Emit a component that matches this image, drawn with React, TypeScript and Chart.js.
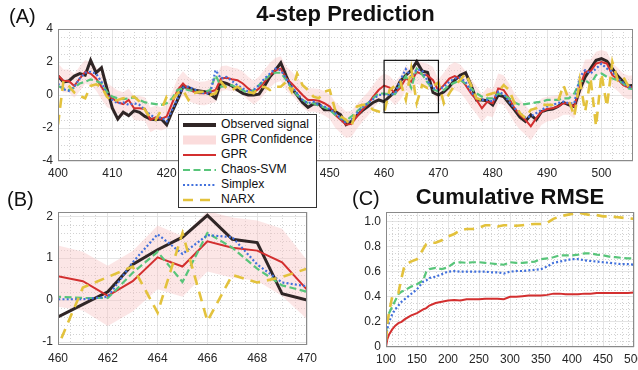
import React, { useEffect, useRef } from 'react';
import { Chart, registerables } from 'chart.js';

Chart.register(...registerables);

const FONT = '"Liberation Sans", Arial, Helvetica, sans-serif';
const TEXT = '#262626';
const BLACK = '#302626';
const RED = '#d32f2f';
const GREEN = '#58c57a';
const BLUE = '#4170dc';
const YELLOW = '#e3c23c';
const PINK = 'rgba(248, 196, 196, 0.42)';

// ---------- Panel A / B data (time steps 400..506) ----------
const firstStep = 400;
const observed = [
  1.15, 0.8, 0.85, 1.15, 1.3, 1.2, 2.1, 1.35, 1.65, 0.4,
  -0.8, -1.45, -1.05, -1.25, -0.95, -1.05, -1.3, -1.45, -1.5, -1.45,
  -1.8, -1.0, -0.3, 0.5, 0.45, 0.3, 0.25, 0.2, 0.05, -0.2,
  0.8, 0.7, 0.55, 0.3, 0.1, 0.0, 0.0, 0.05, 0.55, 1.1,
  1.5, 1.95, 1.15, 0.4, 0.0, -0.45, -0.75, -0.55, -0.55, -0.9,
  -0.9, -1.0, -1.2, -1.8, -1.6, -1.25, -0.95, -0.7, -0.45, -0.3,
  -0.4, -0.1, 0.2, 0.85, 1.2, 1.5, 2.02, 1.45, 1.37, 0.15,
  0.0, 0.2, 0.5, 0.9, 1.2, 1.35, 0.6, -0.3, -0.3, -0.35,
  -0.6, 0.0, -0.1, -0.5, -0.9, -1.35, -1.6, -1.2, -1.5, -1.0,
  -0.9, -0.85, -0.7, -0.45, -0.6, -0.7, 0.3, 1.1, 1.6, 2.1,
  2.2, 2.05, 1.6, 1.15, 0.8, 0.55, 0.6,
];
const gpr = [
  1.2, 0.85, 0.85, 0.55, 1.0, 1.4, 1.3, 1.0, 0.5, 0.0,
  -0.2, -0.45, -0.55, -0.3, -0.8, -0.8, -0.85, -1.5, -1.35, -1.45,
  -1.3, -0.5, 0.3, 0.7, 0.35, 0.2, 0.1, 0.1, 0.2, 0.3,
  1.0, 1.05, 0.95, 0.9, 0.7, 0.4, 0.15, 0.4, 0.8, 1.2,
  1.5, 1.6, 1.0, 0.7, 0.35, 0.0, -0.3, -0.3, -0.35, -0.5,
  -0.7, -1.2, -1.5, -1.8, -1.75, -1.3, -0.9, -0.55, -0.1, 0.3,
  0.57, 0.45, 0.1, 0.45, 1.02, 0.8, 1.4, 1.25, 1.18, 0.9,
  0.25, 0.6, 1.0, 1.15, 1.0, 0.6, 0.1, -0.3, -0.8, -0.4,
  -0.5, 0.4, 0.3, -0.2, -0.8, -1.2, -1.5, -1.9, -1.4, -1.0,
  -0.85, -0.8, -0.7, -0.5, -0.5, -0.7, 0.5, 1.4, 1.45, 1.9,
  2.0, 1.9, 1.2, 0.95, 0.6, 0.45, 0.5,
];
const gprUpper = [
  1.92, 1.55, 1.55, 1.27, 1.75, 2.12, 2.0, 1.72, 1.25, 0.72,
  0.5, 0.27, 0.17, 0.4, -0.08, -0.06, -0.13, -0.75, -0.63, -0.75,
  -0.58, 0.2, 1.02, 1.44, 1.07, 0.9, 0.8, 0.82, 0.92, 1.04,
  1.75, 1.79, 1.67, 1.6, 1.42, 1.1, 0.87, 1.12, 1.54, 1.95,
  2.25, 2.35, 1.72, 1.42, 1.05, 0.72, 0.42, 0.4, 0.37, 0.24,
  0.05, -0.42, -0.7, -1.0, -0.97, -0.55, -0.18, 0.17, 0.62, 1.04,
  1.3, 1.15, 0.82, 1.17, 1.78, 1.52, 2.12, 1.97, 1.9, 1.7,
  0.95, 1.35, 1.8, 2.0, 1.85, 1.45, 0.95, 0.55, 0.05, 0.45,
  0.35, 1.3, 1.2, 0.7, 0.1, -0.3, -0.6, -1.05, -0.55, -0.2,
  -0.1, -0.08, 0.0, 0.2, 0.2, 0.02, 1.25, 2.15, 2.17, 2.62,
  2.72, 2.62, 1.92, 1.65, 1.3, 1.17, 1.2,
];
const gprLower = [
  0.48, 0.15, 0.15, -0.17, 0.25, 0.68, 0.6, 0.28, -0.25, -0.72,
  -0.9, -1.17, -1.27, -1.0, -1.52, -1.54, -1.57, -2.25, -2.07, -2.15,
  -2.02, -1.2, -0.42, -0.04, -0.37, -0.5, -0.6, -0.62, -0.52, -0.44,
  0.25, 0.31, 0.23, 0.2, -0.02, -0.3, -0.57, -0.32, 0.06, 0.45,
  0.75, 0.85, 0.28, -0.02, -0.35, -0.72, -1.02, -1.0, -1.07, -1.24,
  -1.45, -1.98, -2.3, -2.6, -2.53, -2.05, -1.62, -1.27, -0.82, -0.44,
  -0.16, -0.25, -0.62, -0.27, 0.26, 0.08, 0.68, 0.53, 0.46, 0.1,
  -0.45, -0.15, 0.2, 0.3, 0.15, -0.25, -0.75, -1.15, -1.65, -1.25,
  -1.35, -0.5, -0.6, -1.1, -1.7, -2.1, -2.4, -2.75, -2.25, -1.8,
  -1.6, -1.52, -1.4, -1.2, -1.2, -1.42, -0.25, 0.65, 0.73, 1.18,
  1.28, 1.18, 0.48, 0.25, -0.1, -0.27, -0.2,
];
const chaosSvm = [
  0.55, 0.4, 0.3, 0.45, 0.7, 0.8, 0.95, 0.85, 0.7, 0.2,
  -0.1, -0.2, -0.25, -0.2, -0.15, -0.3, -0.45, -0.5, -0.55, -0.6,
  -0.5, -0.2, 0.3, 0.4, 0.3, 0.25, 0.15, 0.2, 0.3, 1.2,
  0.5, 0.55, 0.6, 0.4, 0.3, 0.1, 0.3, 0.6, 0.9, 1.2,
  1.35, 1.35, 0.9, 0.4, 0.0, -0.3, -0.5, -0.5, -0.65, -0.75,
  -0.9, -1.2, -1.4, -1.55, -1.3, -1.0, -0.7, -0.5, -0.2, 0.1,
  0.08, 0.05, 0.05, 0.65, 1.15, 0.43, 1.6, 1.25, 0.75, 0.35,
  0.2, 0.3, 0.6, 0.75, 0.9, 0.7, 0.4, 0.1, -0.1, -0.2,
  -0.2, 0.1, 0.0, -0.2, -0.45, -0.6, -0.55, -0.5, -0.45, -0.4,
  -0.3, -0.3, -0.3, -0.2, -0.2, 0.1, 0.8, 0.9, 0.65, 1.2,
  1.3, 1.1, 1.0, 0.9, 0.7, 0.4, 0.35,
];
const simplex = [
  0.7, 0.35, 0.25, 0.5, 1.0, 1.35, 1.4, 1.3, 0.8, 0.0,
  -0.3, -0.5, -0.45, -0.6, -0.5, -0.6, -0.9, -1.2, -1.4, -1.35,
  -1.6, -0.9, -0.2, 0.45, 0.5, 0.35, 0.2, 0.1, 0.1, 1.5,
  1.0, 1.1, 0.85, 0.6, 0.4, 0.2, 0.3, 0.6, 1.0, 1.3,
  1.6, 1.5, 1.0, 0.5, 0.1, -0.3, -0.5, -0.4, -0.6, -0.7,
  -0.85, -1.1, -1.4, -1.7, -1.5, -1.1, -0.75, -0.5, -0.25, 0.0,
  0.02, 0.02, 0.08, 0.9, 1.57, 1.1, 1.55, 1.5, 0.85, 0.42,
  0.33, 0.5, 0.8, 1.0, 1.05, 0.8, 0.2, -0.2, -0.3, -0.3,
  -0.4, 0.2, 0.05, -0.4, -0.8, -1.1, -1.35, -1.3, -1.1, -0.9,
  -0.7, -0.6, -0.5, -0.4, -0.5, -0.5, 1.1, 1.5, 1.3, 1.6,
  1.9, 1.6, 1.4, 1.0, 0.75, 0.5, 0.4,
];
const narx = [
  -1.8, 0.85, 0.55, 0.15, -0.05, -0.2, 0.55, 0.65, 0.5, -0.1,
  -0.4, -0.3, -0.2, -0.15, -0.1, -0.4, -0.9, -1.4, -1.5, -0.9,
  -0.1, -0.3, 0.1, 0.3, -0.3, 0.1, 0.2, 0.2, 0.0, 0.1,
  0.8, 0.4, 0.3, 0.5, 0.3, 0.2, 0.1, 0.45, 0.5, 0.3,
  0.5, 0.5, 0.8, 0.2, 1.3, 0.6, 0.3, -0.1, -0.2, 0.2,
  0.3, -0.9, -1.3, -1.5, -1.9, -0.7, -0.6, -0.6, -0.9, -1.0,
  -1.1, 0.3, 0.55, 0.8, -0.3, 1.6, -0.5, 0.6, 0.42, 0.55,
  0.75, -0.5, 0.1, 0.6, 0.9, 1.3, 0.6, -0.2, -0.3, 0.0,
  0.1, 0.2, 0.6, 0.3, -0.5, -1.1, -1.4, -0.9, -0.8, -0.6,
  -0.6, -0.6, -0.4, 0.6, -0.3, -1.3, 0.9, -1.0, 1.0, -1.9,
  1.3, -0.7, 2.0, 0.9, 1.1, 0.5, 0.9,
];
const timeSteps = observed.map((_, i) => firstStep + i);

// zoom window shown in panel B and outlined in panel A
const zoomWindowX = [460, 470];
const zoomWindowY = [-1.07, 2.1];

// ---------- Panel C data ----------
const rmseSteps = [
  100, 102, 105, 110, 115, 120, 125, 130, 140, 150, 160, 165, 170, 180, 190, 200,
  210, 220, 230, 240, 250, 260, 270, 280, 290, 300, 310, 320, 330, 340, 350, 360,
  370, 380, 390, 400, 410, 420, 430, 440, 450, 460, 470, 480, 490, 500,
];
const rmseGpr = [
  0.0, 0.06, 0.1, 0.14, 0.17, 0.19, 0.2, 0.22, 0.25, 0.27, 0.3, 0.31, 0.33, 0.35, 0.36, 0.37,
  0.375, 0.37, 0.38, 0.38, 0.38, 0.385, 0.385, 0.385, 0.38, 0.4, 0.4, 0.405, 0.41, 0.41, 0.41, 0.415,
  0.425, 0.425, 0.42, 0.42, 0.42, 0.425, 0.425, 0.43, 0.43, 0.43, 0.43, 0.43, 0.43, 0.435,
];
const rmseSvm = [
  0.1, 0.2, 0.27, 0.32, 0.37, 0.42, 0.44, 0.45, 0.48, 0.5, 0.53, 0.6, 0.62, 0.63, 0.62, 0.635,
  0.67, 0.675, 0.67, 0.675, 0.675, 0.67, 0.665, 0.66, 0.655, 0.675, 0.67, 0.67, 0.675, 0.68, 0.7, 0.705,
  0.715, 0.73, 0.73, 0.73, 0.735, 0.745, 0.745, 0.735, 0.73, 0.72, 0.715, 0.71, 0.705, 0.705,
];
const rmseSimplex = [
  0.05, 0.14, 0.2, 0.26, 0.3, 0.33, 0.36, 0.38, 0.42, 0.46, 0.52, 0.53, 0.55, 0.56, 0.58, 0.6,
  0.605, 0.6, 0.6, 0.6, 0.6, 0.6, 0.595, 0.595, 0.585, 0.6, 0.605, 0.605, 0.61, 0.615, 0.62, 0.64,
  0.67, 0.68, 0.69, 0.7, 0.7, 0.69, 0.685, 0.68, 0.675, 0.67, 0.665, 0.66, 0.66, 0.655,
];
const rmseNarx = [
  0.05, 0.18, 0.28, 0.4, 0.41, 0.43, 0.55, 0.65, 0.68, 0.7, 0.78, 0.82, 0.83, 0.83, 0.85, 0.88,
  0.9, 0.93, 0.94, 0.94, 0.95, 0.97, 0.97, 0.96, 0.97, 0.97, 0.965, 0.97, 0.975, 0.98, 0.98, 0.99,
  1.02, 1.04, 1.05, 1.06, 1.07, 1.06, 1.05, 1.05, 1.04, 1.04, 1.035, 1.03, 1.025, 1.02,
];

const W = 638;
const H = 370;

type Series = { label: string; color: string; width: number; dash: number[] };
const styleObserved: Series = { label: 'Observed signal', color: BLACK, width: 3, dash: [] };
const styleGpr: Series = { label: 'GPR', color: RED, width: 2, dash: [] };
const styleSvm: Series = { label: 'Chaos-SVM', color: GREEN, width: 2.2, dash: [7, 3.5] };
const styleSimplex: Series = { label: 'Simplex', color: BLUE, width: 2.2, dash: [2, 2.2] };
const styleNarx: Series = { label: 'NARX', color: YELLOW, width: 2.6, dash: [10, 7] };

function lineDs(s: Series, xs: number[], ys: number[]) {
  return {
    label: s.label,
    data: ys.map((y, i) => ({ x: xs[i], y })),
    borderColor: s.color,
    borderWidth: s.width,
    borderDash: s.dash,
    pointRadius: 0,
    tension: 0,
    fill: false,
  };
}

function predictionDatasets() {
  return [
    lineDs(styleNarx, timeSteps, narx),
    lineDs(styleSimplex, timeSteps, simplex),
    lineDs(styleSvm, timeSteps, chaosSvm),
    lineDs(styleGpr, timeSteps, gpr),
    lineDs(styleObserved, timeSteps, observed),
    {
      label: 'GPR Confidence',
      data: gprUpper.map((y, i) => ({ x: timeSteps[i], y })),
      borderWidth: 0,
      borderColor: 'rgba(0,0,0,0)',
      backgroundColor: PINK,
      pointRadius: 0,
      tension: 0,
      fill: '+1',
    },
    {
      label: 'GPR Confidence lower',
      data: gprLower.map((y, i) => ({ x: timeSteps[i], y })),
      borderWidth: 0,
      borderColor: 'rgba(0,0,0,0)',
      pointRadius: 0,
      tension: 0,
      fill: false,
    },
  ];
}

const panelDecor = {
  id: 'panelDecor',
  beforeDatasetsDraw(chart: any, _a: any, opts: any) {
    const { ctx, chartArea: a, scales } = chart;
    ctx.save();
    ctx.beginPath();
    ctx.rect(a.left, a.top, a.right - a.left, a.bottom - a.top);
    ctx.clip();
    ctx.strokeStyle = '#d2d2d2';
    ctx.lineWidth = 1;
    ctx.setLineDash([1, 2]);
    const doAxis = (scale: any, minor: number, major: number, horizontal: boolean) => {
      const start = Math.ceil(scale.min / minor - 1e-9);
      for (let k = start; k * minor <= scale.max + 1e-9; k++) {
        const v = k * minor;
        const r = v / major;
        if (Math.abs(r - Math.round(r)) < 1e-6) continue;
        const p = Math.round(scale.getPixelForValue(v)) + 0.5;
        ctx.beginPath();
        if (horizontal) {
          ctx.moveTo(a.left, p);
          ctx.lineTo(a.right, p);
        } else {
          ctx.moveTo(p, a.top);
          ctx.lineTo(p, a.bottom);
        }
        ctx.stroke();
      }
    };
    doAxis(scales.x, opts.minorX, opts.majorX, false);
    doAxis(scales.y, opts.minorY, opts.majorY, true);
    ctx.restore();
  },
  afterDatasetsDraw(chart: any, _a: any, opts: any) {
    const { ctx, chartArea: a, scales } = chart;
    ctx.save();
    ctx.setLineDash([]);
    ctx.strokeStyle = '#8a8a8a';
    ctx.lineWidth = 1;
    ctx.strokeRect(Math.round(a.left) + 0.5, Math.round(a.top) + 0.5, Math.round(a.right - a.left) - 1, Math.round(a.bottom - a.top) - 1);
    if (opts.box) {
      const x0 = scales.x.getPixelForValue(zoomWindowX[0]);
      const x1 = scales.x.getPixelForValue(zoomWindowX[1]);
      const y0 = scales.y.getPixelForValue(zoomWindowY[1]);
      const y1 = scales.y.getPixelForValue(zoomWindowY[0]);
      ctx.strokeStyle = '#111';
      ctx.lineWidth = 1.2;
      ctx.strokeRect(x0, y0, x1 - x0, y1 - y0);
    }
    ctx.restore();
  },
};

function axis(min: number, max: number, step: number, isX: boolean, size: number, pad: number) {
  return {
    type: 'linear',
    min,
    max,
    ticks: {
      stepSize: step,
      includeBounds: false,
      autoSkip: false,
      maxRotation: 0,
      padding: pad,
      color: TEXT,
      font: { family: FONT, size: 12 },
    },
    grid: { color: '#e4e4e4', lineWidth: 1, drawTicks: false },
    border: { display: false },
    afterFit: (s: any) => {
      if (isX) s.height = size;
      else s.width = size;
      s.paddingLeft = 0;
      s.paddingRight = 0;
      s.paddingTop = 0;
      s.paddingBottom = 0;
    },
  };
}

function baseOptions(padding: any, scales: any, decor: any) {
  return {
    animation: false,
    responsive: false,
    maintainAspectRatio: false,
    events: [],
    layout: { padding },
    plugins: {
      legend: { display: false },
      tooltip: { enabled: false },
      title: { display: false },
      panelDecor: decor,
    },
    scales,
  };
}

function ChartCanvas({ make }: { make: () => any }) {
  const ref = useRef<HTMLCanvasElement | null>(null);
  useEffect(() => {
    if (!ref.current) return;
    const chart = new Chart(ref.current, make());
    return () => chart.destroy();
  }, []);
  return (
    <canvas
      ref={ref}
      width={W}
      height={H}
      style={{ position: 'absolute', left: 0, top: 0, width: W, height: H }}
    />
  );
}

const makeA = () => ({
  type: 'line',
  data: { datasets: predictionDatasets() },
  plugins: [panelDecor],
  options: baseOptions(
    { left: 0, right: 5, top: 29, bottom: 370 - 161 - 22 },
    {
      x: axis(400, 505.8, 10, true, 22, 5),
      y: axis(-4, 4, 2, false, 58, 5),
    },
    { minorX: 2, majorX: 10, minorY: 0.5, majorY: 2, box: true }
  ),
});

const makeB = () => ({
  type: 'line',
  data: { datasets: predictionDatasets() },
  plugins: [panelDecor],
  options: baseOptions(
    { left: 0, right: W - 307, top: 212, bottom: 370 - 345 - 22 },
    {
      x: axis(zoomWindowX[0], zoomWindowX[1], 2, true, 22, 6),
      y: axis(zoomWindowY[0], zoomWindowY[1], 1, false, 58, 5),
    },
    { minorX: 0.5, majorX: 2, minorY: 0.2, majorY: 1, box: false }
  ),
});

const makeC = () => ({
  type: 'line',
  data: {
    datasets: [
      lineDs(styleNarx, rmseSteps, rmseNarx),
      lineDs(styleSimplex, rmseSteps, rmseSimplex),
      lineDs(styleSvm, rmseSteps, rmseSvm),
      lineDs(styleGpr, rmseSteps, rmseGpr),
    ],
  },
  plugins: [panelDecor],
  options: baseOptions(
    { left: 346, right: 4, top: 212, bottom: 370 - 347 - 20 },
    {
      x: axis(100, 500, 50, true, 20, 5),
      y: axis(0, 1.075, 0.2, false, 40, 5),
    },
    { minorX: 10, majorX: 50, minorY: 0.05, majorY: 0.2, box: false }
  ),
});

const legendItems = [
  { label: 'Observed signal', kind: 'line', s: { ...styleObserved, width: 4 } },
  { label: 'GPR Confidence', kind: 'patch', s: styleGpr },
  { label: 'GPR', kind: 'line', s: styleGpr },
  { label: 'Chaos-SVM', kind: 'line', s: styleSvm },
  { label: 'Simplex', kind: 'line', s: styleSimplex },
  { label: 'NARX', kind: 'line', s: styleNarx },
];

function Legend() {
  return (
    <div
      style={{
        position: 'absolute',
        left: 178,
        top: 114,
        width: 139,
        height: 94,
        boxSizing: 'border-box',
        border: '1px solid #333',
        background: '#fff',
        fontFamily: FONT,
        fontSize: 12.2,
        color: '#111',
      }}
    >
      {legendItems.map((it, i) => (
        <div
          key={it.label}
          style={{ position: 'absolute', left: 4, top: 2 + i * 15, height: 15, display: 'flex', alignItems: 'center', whiteSpace: 'nowrap' }}
        >
          <svg width={33} height={12} style={{ display: 'block' }}>
            {it.kind === 'patch' ? (
              <rect x={0} y={1.5} width={33} height={9} fill="rgba(248, 196, 196, 0.6)" />
            ) : (
              <line
                x1={0}
                y1={6}
                x2={33}
                y2={6}
                stroke={it.s.color}
                strokeWidth={it.s.width}
                strokeDasharray={it.s.dash.length ? it.s.dash.join(' ') : undefined}
              />
            )}
          </svg>
          <span style={{ marginLeft: 5, lineHeight: '15px' }}>{it.label}</span>
        </div>
      ))}
    </div>
  );
}

const labelStyle: React.CSSProperties = {
  position: 'absolute',
  fontFamily: FONT,
  color: '#111',
  whiteSpace: 'nowrap',
};

export default function App() {
  return (
    <div style={{ position: 'absolute', left: 0, top: 0, width: W, height: H, background: '#fff', overflow: 'hidden' }}>
      <ChartCanvas make={makeC} />
      <ChartCanvas make={makeB} />
      <ChartCanvas make={makeA} />
      <Legend />
      <div style={{ ...labelStyle, left: 58, width: 575, top: 3, textAlign: 'center', fontSize: 22, fontWeight: 'bold', lineHeight: '22px' }}>
        4-step Prediction
      </div>
      <div style={{ ...labelStyle, left: 386, width: 248, top: 186, textAlign: 'center', fontSize: 22, fontWeight: 'bold', lineHeight: '22px' }}>
        Cumulative RMSE
      </div>
      <div style={{ ...labelStyle, left: 9, top: 6, fontSize: 20, lineHeight: '20px' }}>(A)</div>
      <div style={{ ...labelStyle, left: 7, top: 189, fontSize: 20, lineHeight: '20px' }}>(B)</div>
      <div style={{ ...labelStyle, left: 352, top: 188, fontSize: 20, lineHeight: '20px' }}>(C)</div>
    </div>
  );
}
